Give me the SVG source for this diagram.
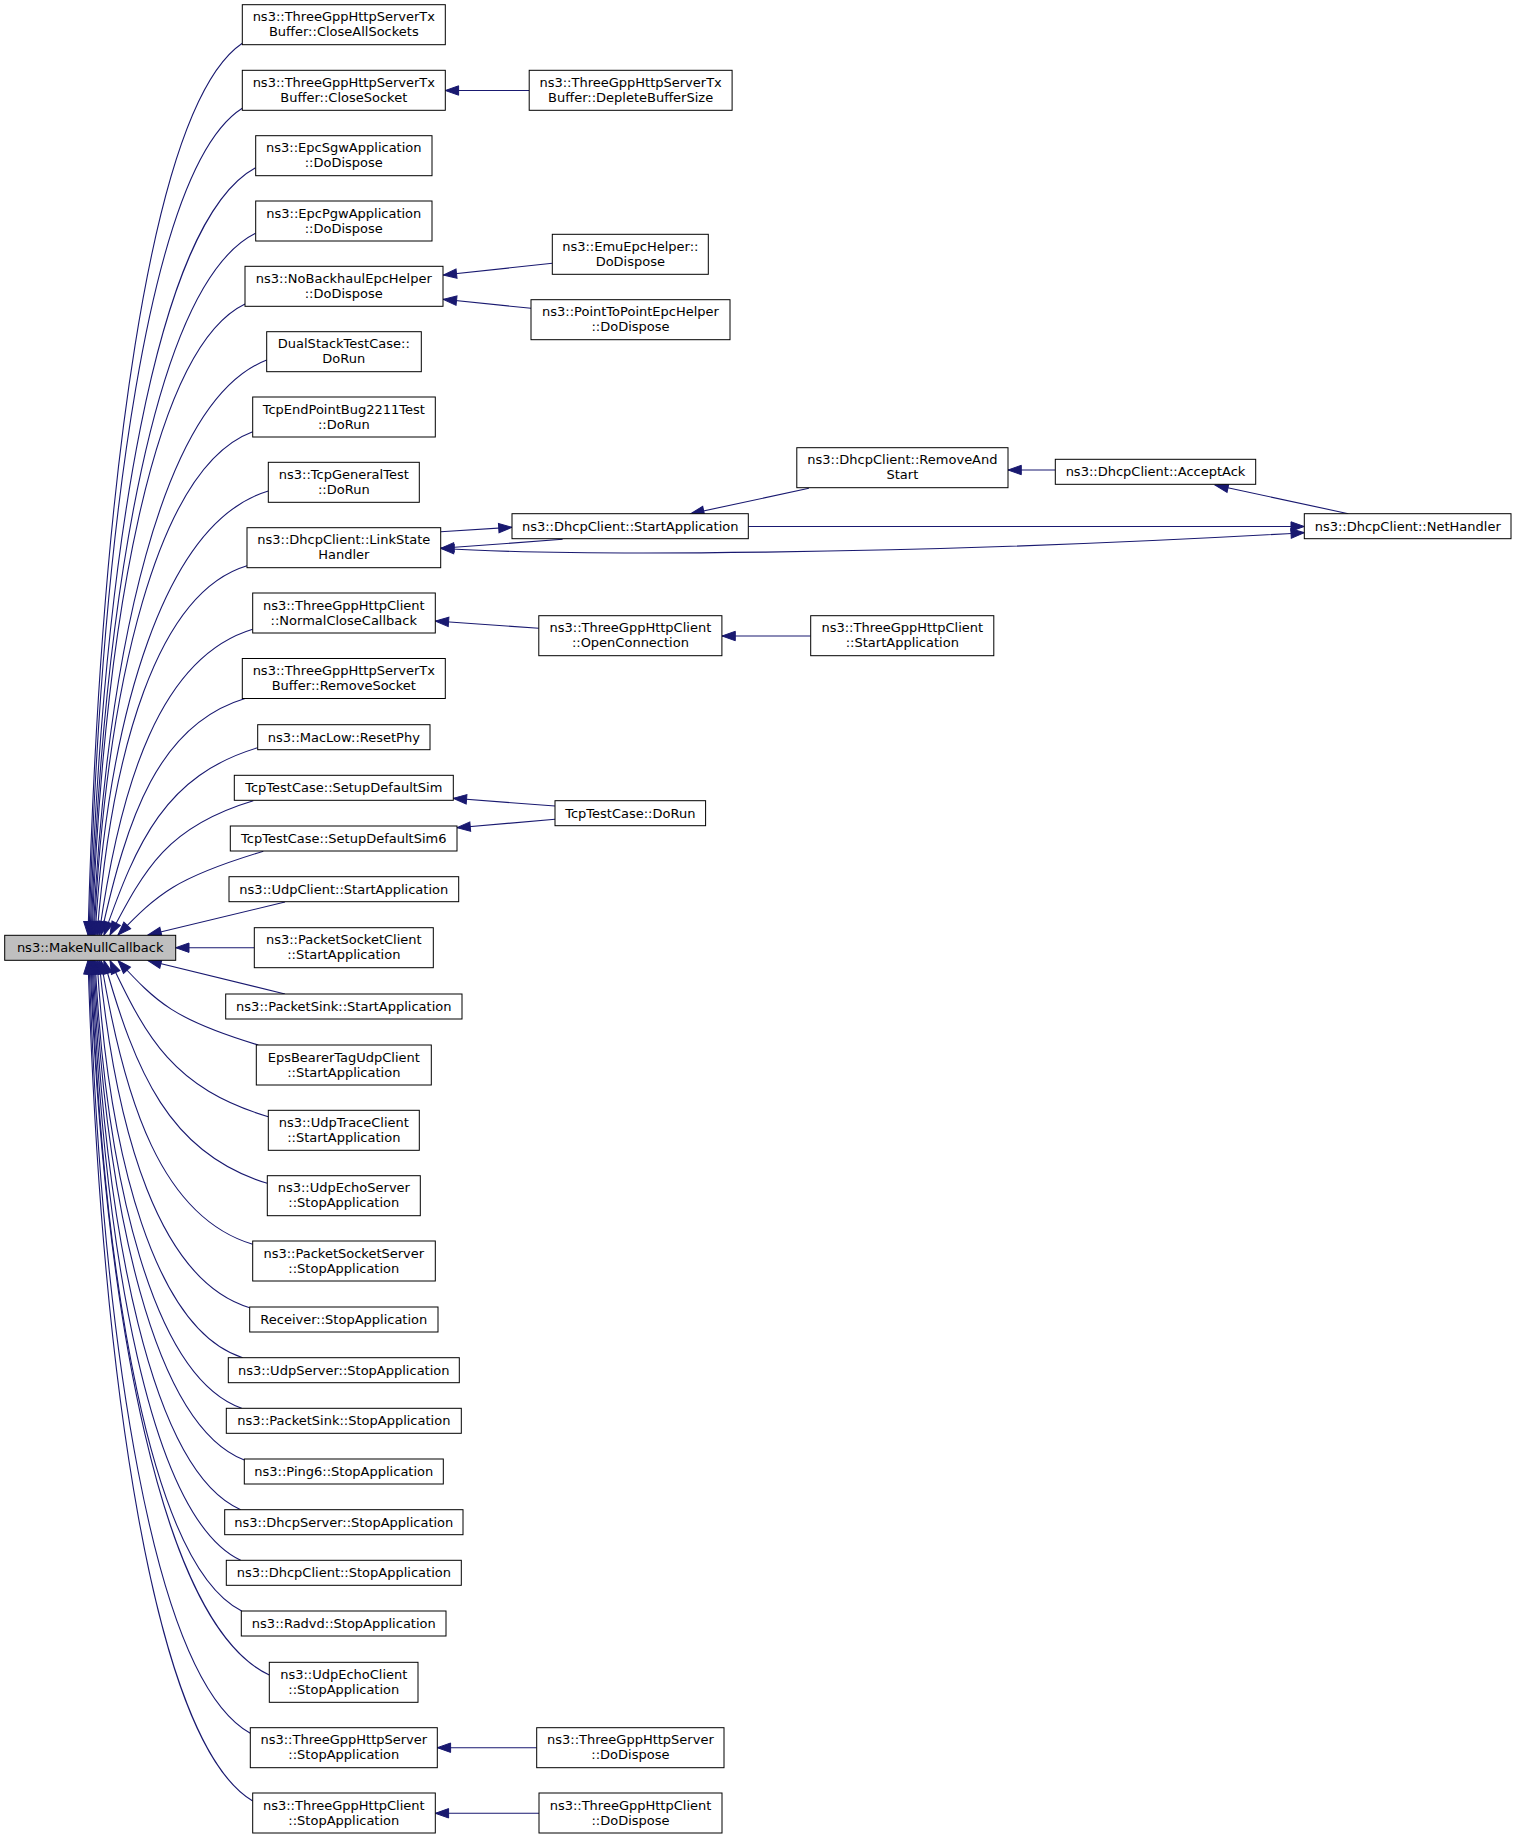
<svg xmlns="http://www.w3.org/2000/svg" width="1517" height="1839" viewBox="0 0 1517 1839">
<style>
.n rect{fill:#ffffff;stroke:#000000;stroke-width:1}
.m rect{fill:#bfbfbf;stroke:#000000;stroke-width:1}
text{font-family:"DejaVu Sans","Liberation Sans",sans-serif;font-size:13px;text-anchor:middle;fill:#000000}
.e path{fill:none;stroke:#191970;stroke-width:1.1;marker-end:url(#ah)}
</style>
<defs>
<marker id="ah" viewBox="0 0 13.3 9.4" refX="13.3" refY="4.7" markerWidth="13.3" markerHeight="9.4" markerUnits="userSpaceOnUse" orient="auto-start-reverse" overflow="visible">
<path d="M0,0 L13.3,4.7 L0,9.4 z" fill="#191970" stroke="#191970" stroke-width="1"/>
</marker>
</defs>
<rect width="1517" height="1839" fill="#ffffff"/>
<g class="e" id="edges">
<path d="M242.3,43.3 C149.7,105.7 100.3,489.1 88,935"/>
<path d="M242.3,108.3 C150.3,166.2 101.3,521.6 89,935"/>
<path d="M255.5,167.7 C156.2,221.4 103.2,551.3 90,935"/>
<path d="M255.5,233.3 C156.8,282.4 104.2,584.2 91,935"/>
<path d="M245,304 C153.2,348.2 104.2,619.5 92,935"/>
<path d="M266.7,360 C162.5,400.3 106.9,647.5 93,935"/>
<path d="M252.7,431.7 C157.5,466.9 106.7,683.4 94,935"/>
<path d="M268.3,491 C164.3,522.2 108.9,713 95,935"/>
<path d="M247,565.7 C157,592.7 111.9,750.3 97,935"/>
<path d="M252.7,629.3 C160.5,657 120.4,782.1 99,935"/>
<path d="M245,698.5 C158.6,724.4 127.2,816.7 101,935"/>
<path d="M257.7,747.7 C165.5,775.4 136.7,841.3 104,935"/>
<path d="M253.3,800.7 C167.3,826.5 145.3,867.8 110,935"/>
<path d="M263.3,851.3 C176.1,877.5 158.4,893.1 118,935"/>
<path d="M285,902 L148,935"/>
<path d="M254.3,947.7 L175.7,947.7"/>
<path d="M285,994 L148,960.5"/>
<path d="M258.3,1045 C174.1,1019.7 156.9,1002.8 118,960.5"/>
<path d="M268.3,1116.7 C173.3,1088.2 146.7,1038.6 110,960.5"/>
<path d="M267.3,1183.3 C169.3,1153.9 135.2,1071.9 104,960.5"/>
<path d="M252.7,1244.3 C161.7,1217 124.2,1102.4 101,960.5"/>
<path d="M249.7,1307.7 C159.3,1280.6 116,1134.1 99,960.5"/>
<path d="M242.7,1357.7 C155.3,1329.9 108.9,1159.1 97,960.5"/>
<path d="M241.7,1408.3 C153.7,1377 106.7,1184.4 95,960.5"/>
<path d="M244.3,1460 C154.1,1425 106,1210.3 94,960.5"/>
<path d="M240.7,1509.7 C152.1,1471.3 104.8,1235.1 93,960.5"/>
<path d="M240.7,1560.3 C151.5,1518.3 103.9,1260.4 92,960.5"/>
<path d="M241.7,1611 C151.3,1565.5 103.1,1285.8 91,960.5"/>
<path d="M269.3,1675 C161.7,1625 104.3,1317.8 90,960.5"/>
<path d="M250.3,1733.3 C153.5,1679.2 101.9,1346.9 89,960.5"/>
<path d="M252.7,1801 C153.9,1742.2 101.2,1380.8 88,960.5"/>
<path d="M529.2,90.5 L445.3,90.5"/>
<path d="M552.3,263.3 L443.3,275"/>
<path d="M531,308.3 L443.3,299.3"/>
<path d="M538.8,628.3 L435.3,621"/>
<path d="M810.7,636 L722,636"/>
<path d="M555,806 L453.3,798.3"/>
<path d="M555,819.3 L457,827.7"/>
<path d="M536.7,1747.7 L437.3,1747.7"/>
<path d="M539,1813.3 L435.3,1813.3"/>
<path d="M808.9,488.3 L690.7,513.7"/>
<path d="M1055.3,470 L1008,470"/>
<path d="M1348.3,513.7 L1215,485"/>
<path d="M748.3,526.5 L1304.3,526.5"/>
<path d="M440.7,531.7 L512,527.3"/>
<path d="M562.6,539.3 L440.7,548.3"/>
<path d="M440.7,548.3 C560,556 900,556 1304.3,532.7" style="marker-start:url(#ah)"/>
</g>
<g class="m" id="main"><rect x="4.7" y="935.3" width="171" height="25"/><text x="90.2" y="952">ns3::MakeNullCallback</text></g>
<g class="n" id="n1"><rect x="242.3" y="4.7" width="203" height="40"/><text x="343.8" y="21.2">ns3::ThreeGppHttpServerTx</text><text x="343.8" y="36.2">Buffer::CloseAllSockets</text></g>
<g class="n" id="n2"><rect x="242.3" y="70.3" width="203" height="40"/><text x="343.8" y="86.8">ns3::ThreeGppHttpServerTx</text><text x="343.8" y="101.8">Buffer::CloseSocket</text></g>
<g class="n" id="n3"><rect x="255.7" y="135.7" width="176.3" height="40"/><text x="343.8" y="152.2">ns3::EpcSgwApplication</text><text x="343.8" y="167.2">::DoDispose</text></g>
<g class="n" id="n4"><rect x="255.7" y="201" width="176.3" height="40"/><text x="343.8" y="217.5">ns3::EpcPgwApplication</text><text x="343.8" y="232.5">::DoDispose</text></g>
<g class="n" id="n5"><rect x="245" y="266.3" width="198" height="40"/><text x="343.8" y="282.8">ns3::NoBackhaulEpcHelper</text><text x="343.8" y="297.8">::DoDispose</text></g>
<g class="n" id="n6"><rect x="266.7" y="331.7" width="154.6" height="40"/><text x="343.8" y="348.2">DualStackTestCase::</text><text x="343.8" y="363.2">DoRun</text></g>
<g class="n" id="n7"><rect x="252.7" y="397" width="182.6" height="40"/><text x="343.8" y="413.5">TcpEndPointBug2211Test</text><text x="343.8" y="428.5">::DoRun</text></g>
<g class="n" id="n8"><rect x="268.3" y="462.3" width="151" height="40"/><text x="343.8" y="478.8">ns3::TcpGeneralTest</text><text x="343.8" y="493.8">::DoRun</text></g>
<g class="n" id="n9"><rect x="247" y="527.7" width="193.7" height="40"/><text x="343.8" y="544.2">ns3::DhcpClient::LinkState</text><text x="343.8" y="559.2">Handler</text></g>
<g class="n" id="n10"><rect x="252.7" y="593" width="182.6" height="40"/><text x="343.8" y="609.5">ns3::ThreeGppHttpClient</text><text x="343.8" y="624.5">::NormalCloseCallback</text></g>
<g class="n" id="n11"><rect x="242.3" y="658.5" width="203" height="40"/><text x="343.8" y="675">ns3::ThreeGppHttpServerTx</text><text x="343.8" y="690">Buffer::RemoveSocket</text></g>
<g class="n" id="n12"><rect x="257.7" y="724.7" width="172.3" height="25"/><text x="343.8" y="741.5">ns3::MacLow::ResetPhy</text></g>
<g class="n" id="n13"><rect x="234.3" y="775.3" width="219" height="25"/><text x="343.8" y="792.1">TcpTestCase::SetupDefaultSim</text></g>
<g class="n" id="n14"><rect x="230.3" y="826" width="226.7" height="25"/><text x="343.8" y="842.8">TcpTestCase::SetupDefaultSim6</text></g>
<g class="n" id="n15"><rect x="229" y="876.7" width="229.7" height="25"/><text x="343.8" y="893.5">ns3::UdpClient::StartApplication</text></g>
<g class="n" id="n16"><rect x="254.3" y="927.7" width="179" height="40"/><text x="343.8" y="944.2">ns3::PacketSocketClient</text><text x="343.8" y="959.2">::StartApplication</text></g>
<g class="n" id="n17"><rect x="225.7" y="994" width="236.3" height="25"/><text x="343.8" y="1010.8">ns3::PacketSink::StartApplication</text></g>
<g class="n" id="n18"><rect x="256.3" y="1045" width="175" height="40"/><text x="343.8" y="1061.5">EpsBearerTagUdpClient</text><text x="343.8" y="1076.5">::StartApplication</text></g>
<g class="n" id="n19"><rect x="268.3" y="1110.3" width="151" height="40"/><text x="343.8" y="1126.8">ns3::UdpTraceClient</text><text x="343.8" y="1141.8">::StartApplication</text></g>
<g class="n" id="n20"><rect x="267.3" y="1175.7" width="153" height="40"/><text x="343.8" y="1192.2">ns3::UdpEchoServer</text><text x="343.8" y="1207.2">::StopApplication</text></g>
<g class="n" id="n21"><rect x="252.7" y="1241" width="182.6" height="40"/><text x="343.8" y="1257.5">ns3::PacketSocketServer</text><text x="343.8" y="1272.5">::StopApplication</text></g>
<g class="n" id="n22"><rect x="249.7" y="1307" width="188.3" height="25"/><text x="343.8" y="1323.8">Receiver::StopApplication</text></g>
<g class="n" id="n23"><rect x="228.3" y="1357.7" width="231" height="25"/><text x="343.8" y="1374.5">ns3::UdpServer::StopApplication</text></g>
<g class="n" id="n24"><rect x="226.3" y="1408.3" width="235" height="25"/><text x="343.8" y="1425.1">ns3::PacketSink::StopApplication</text></g>
<g class="n" id="n25"><rect x="244.3" y="1459" width="199" height="25"/><text x="343.8" y="1475.8">ns3::Ping6::StopApplication</text></g>
<g class="n" id="n26"><rect x="224.7" y="1509.7" width="238.3" height="25"/><text x="343.8" y="1526.5">ns3::DhcpServer::StopApplication</text></g>
<g class="n" id="n27"><rect x="226.3" y="1560.3" width="235" height="25"/><text x="343.8" y="1577.1">ns3::DhcpClient::StopApplication</text></g>
<g class="n" id="n28"><rect x="241.3" y="1611" width="204.7" height="25"/><text x="343.8" y="1627.8">ns3::Radvd::StopApplication</text></g>
<g class="n" id="n29"><rect x="269.3" y="1662.3" width="148.7" height="40"/><text x="343.8" y="1678.8">ns3::UdpEchoClient</text><text x="343.8" y="1693.8">::StopApplication</text></g>
<g class="n" id="n30"><rect x="250.3" y="1727.7" width="187" height="40"/><text x="343.8" y="1744.2">ns3::ThreeGppHttpServer</text><text x="343.8" y="1759.2">::StopApplication</text></g>
<g class="n" id="n31"><rect x="252.7" y="1793" width="182.6" height="40"/><text x="343.8" y="1809.5">ns3::ThreeGppHttpClient</text><text x="343.8" y="1824.5">::StopApplication</text></g>
<g class="n" id="r1"><rect x="529.2" y="70.3" width="202.9" height="40"/><text x="630.6" y="86.8">ns3::ThreeGppHttpServerTx</text><text x="630.6" y="101.8">Buffer::DepleteBufferSize</text></g>
<g class="n" id="r2"><rect x="552.3" y="234.3" width="156" height="40"/><text x="630.3" y="250.8">ns3::EmuEpcHelper::</text><text x="630.3" y="265.8">DoDispose</text></g>
<g class="n" id="r3"><rect x="531" y="299.7" width="199" height="40"/><text x="630.5" y="316.2">ns3::PointToPointEpcHelper</text><text x="630.5" y="331.2">::DoDispose</text></g>
<g class="n" id="r4"><rect x="512" y="513.7" width="236.3" height="25"/><text x="630.2" y="530.5">ns3::DhcpClient::StartApplication</text></g>
<g class="n" id="r5"><rect x="796.8" y="447.7" width="211.2" height="40"/><text x="902.4" y="464.2">ns3::DhcpClient::RemoveAnd</text><text x="902.4" y="479.2">Start</text></g>
<g class="n" id="r6"><rect x="1055.3" y="459.3" width="200.4" height="25"/><text x="1155.5" y="476.1">ns3::DhcpClient::AcceptAck</text></g>
<g class="n" id="r7"><rect x="1304.3" y="513.7" width="206.7" height="25"/><text x="1407.7" y="530.5">ns3::DhcpClient::NetHandler</text></g>
<g class="n" id="r8"><rect x="538.8" y="615.7" width="183.1" height="40"/><text x="630.4" y="632.2">ns3::ThreeGppHttpClient</text><text x="630.4" y="647.2">::OpenConnection</text></g>
<g class="n" id="r9"><rect x="810.7" y="615.7" width="183.1" height="40"/><text x="902.3" y="632.2">ns3::ThreeGppHttpClient</text><text x="902.3" y="647.2">::StartApplication</text></g>
<g class="n" id="r10"><rect x="555" y="800.7" width="150.6" height="25"/><text x="630.3" y="817.5">TcpTestCase::DoRun</text></g>
<g class="n" id="r11"><rect x="536.7" y="1727.7" width="187.3" height="40"/><text x="630.4" y="1744.2">ns3::ThreeGppHttpServer</text><text x="630.4" y="1759.2">::DoDispose</text></g>
<g class="n" id="r12"><rect x="539" y="1793" width="183" height="40"/><text x="630.5" y="1809.5">ns3::ThreeGppHttpClient</text><text x="630.5" y="1824.5">::DoDispose</text></g>
</svg>
